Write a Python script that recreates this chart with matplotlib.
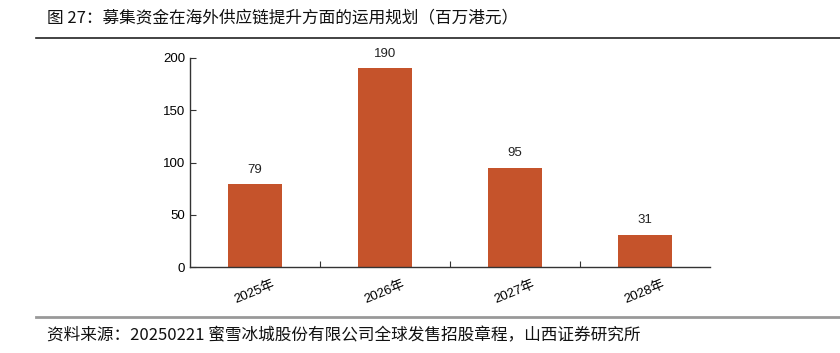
import matplotlib.pyplot as plt
from matplotlib.lines import Line2D

plt.rcParams['font.family'] = ['Liberation Sans', 'Noto Sans CJK SC', 'DejaVu Sans']

years = ['2025年', '2026年', '2027年', '2028年']
values = [79, 190, 95, 31]

title = '图 27：募集资金在海外供应链提升方面的运用规划（百万港元）'
source = '资料来源：20250221 蜜雪冰城股份有限公司全球发售招股章程，山西证券研究所'

fig = plt.figure(figsize=(8.4, 3.53), dpi=100)
ax = fig.add_axes([190 / 840, 1 - 267 / 353, 520 / 840, 209 / 353])

x = range(len(years))
bars = ax.bar(x, values, width=0.42, color='#C5532B')
for b, v in zip(bars, values):
    ax.text(b.get_x() + b.get_width() / 2, v + 8, str(v), ha='center', va='bottom',
            fontsize=9.5, color='#222222')

ax.set_xlim(-0.5, len(years) - 0.5)
ax.set_ylim(0, 200)
ax.set_yticks([0, 50, 100, 150, 200])
ax.set_xticks([i + 0.5 for i in range(len(years) - 1)])
ax.set_xticklabels([])
ax.set_xticks(list(x), minor=True)
ax.set_xticklabels(years, minor=True, rotation=22, fontsize=9.5,
                   family=['Liberation Sans', 'Noto Sans CJK SC'])
ax.tick_params(axis='x', which='minor', length=0, pad=8)
ax.tick_params(axis='x', which='major', length=4, direction='in', color='#333333')
ax.tick_params(axis='y', labelsize=9.5, length=4, direction='in', color='#333333')
for s in ['top', 'right']:
    ax.spines[s].set_visible(False)
for s in ['left', 'bottom']:
    ax.spines[s].set_color('#333333')
    ax.spines[s].set_linewidth(1)

fig.text(47 / 840, 1 - 18 / 353, title, fontsize=12, family=['Noto Sans CJK SC'],
         va='center', ha='left', color='#111111')
fig.add_artist(Line2D([36 / 840, 1.0], [1 - 38 / 353] * 2, color='#222222', lw=1.2))
fig.add_artist(Line2D([36 / 840, 1.0], [1 - 317 / 353] * 2, color='#999999', lw=2))
fig.text(47 / 840, 1 - 336 / 353, source, fontsize=12, family=['Noto Sans CJK SC'],
         va='center', ha='left', color='#111111')

fig.savefig('out.png', dpi=100)
